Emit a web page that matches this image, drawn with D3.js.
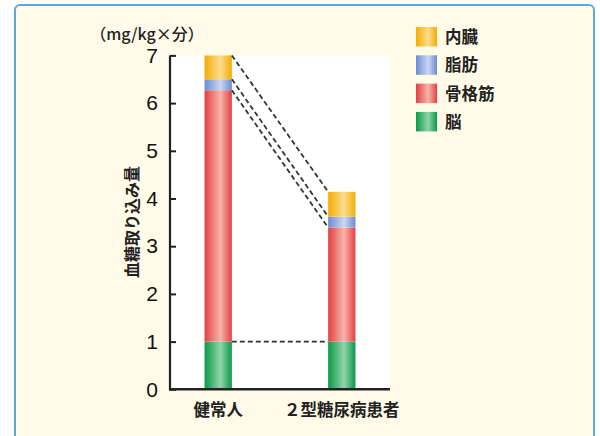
<!DOCTYPE html>
<html><head><meta charset="utf-8">
<script src="https://cdn.jsdelivr.net/npm/d3@7"></script>
<style>body{margin:0;background:#fff;}svg{display:block;}</style>
</head><body>
<script>
const categories = ["健常人", "２型糖尿病患者"];
const seriesNames = ["脳", "骨格筋", "脂肪", "内臓"];
const brain = [1.0, 1.0];
const muscle = [5.27, 2.39];
const fat = [0.23, 0.23];
const visceral = [0.5, 0.52];
const yTicks = [0, 1, 2, 3, 4, 5, 6, 7];
const legendOrder = ["内臓", "脂肪", "骨格筋", "脳"];

const colors = {
  "内臓": ["#f4ad00", "#fcdc90"],
  "脂肪": ["#6a8cd2", "#cbd7f0"],
  "骨格筋": ["#e43f42", "#f7b5ab"],
  "脳": ["#089949", "#93d3a9"]
};

const W = 600, H = 436;
const svg = d3.select("body").append("svg").attr("width", W).attr("height", H);
const defs = svg.append("defs");
Object.entries(colors).forEach(([k, c], i) => {
  const g = defs.append("linearGradient").attr("id", "g" + i).attr("x1", "0%").attr("x2", "100%").attr("y1", "0%").attr("y2", "0%");
  g.append("stop").attr("offset", "0%").attr("stop-color", c[0]);
  g.append("stop").attr("offset", "58%").attr("stop-color", c[1]);
  g.append("stop").attr("offset", "100%").attr("stop-color", c[0]);
});
const gradId = name => "url(#g" + Object.keys(colors).indexOf(name) + ")";

// outer frame
svg.append("rect").attr("x", 15).attr("y", 5).attr("width", 579).attr("height", 450).attr("rx", 5)
  .attr("fill", "#fffbe8").attr("stroke", "#5aa9dc").attr("stroke-width", 2);

const y = d3.scaleLinear().domain([0, 7]).range([389.3, 55.4]);
const x = d3.scaleBand().domain(categories).range([170, 390]).paddingInner(0.78).paddingOuter(0.28);

// plot area
svg.append("rect").attr("x", 171).attr("y", y(7)).attr("width", 219).attr("height", y(0) - y(7)).attr("fill", "#fff");

const data = categories.map((c, i) => ({cat: c, vals: {"脳": brain[i], "骨格筋": muscle[i], "脂肪": fat[i], "内臓": visceral[i]}}));
const stack = d3.stack().keys(seriesNames)(data.map(d => d.vals));

const bw = 27.3;
stack.forEach(layer => {
  svg.append("g").selectAll("rect").data(layer).enter().append("rect")
    .attr("x", (d, i) => x(categories[i]) + x.bandwidth() / 2 - bw / 2)
    .attr("width", bw)
    .attr("y", d => y(d[1]))
    .attr("height", d => y(d[0]) - y(d[1]))
    .attr("fill", gradId(layer.key));
});

// dashed connectors
const x1 = x(categories[0]) + x.bandwidth() / 2 + bw / 2;
const x2 = x(categories[1]) + x.bandwidth() / 2 - bw / 2;
const links = [0, 1, 2, 3].map(k => [stack[k][0][1], stack[k][1][1]]);
svg.append("g").selectAll("line").data(links).enter().append("line")
  .attr("x1", x1).attr("x2", x2).attr("y1", d => y(d[0])).attr("y2", d => y(d[1]))
  .attr("stroke", "#333").attr("stroke-width", 1.8).attr("stroke-dasharray", "5,3");

// axes
const yAxis = d3.axisLeft(y).tickValues(yTicks).tickSize(-6).tickPadding(12).tickFormat(d3.format("d"));
const ga = svg.append("g").attr("transform", "translate(170,0)").call(yAxis);
ga.select(".domain").remove();
ga.selectAll(".tick line").attr("stroke", "#222").attr("stroke-width", 2);
ga.selectAll(".tick text").attr("font-family", "Liberation Sans, Arial, sans-serif").attr("font-size", 21).attr("fill", "#111");
svg.append("line").attr("x1", 170).attr("x2", 170).attr("y1", y(7)).attr("y2", y(0) + 1).attr("stroke", "#222").attr("stroke-width", 2.2);
svg.append("line").attr("x1", 169).attr("x2", 390).attr("y1", y(0)).attr("y2", y(0)).attr("stroke", "#222").attr("stroke-width", 2.4);

const jp = "'Noto Sans CJK JP', sans-serif";
svg.append("g").selectAll("text").data(categories).enter().append("text")
  .attr("x", d => x(d) + x.bandwidth() / 2).attr("y", 416).attr("text-anchor", "middle")
  .attr("font-family", jp).attr("font-size", 16.5).attr("font-weight", 700).attr("fill", "#222").text(d => d);

svg.append("text").attr("x", 147).attr("y", 40).attr("text-anchor", "middle")
  .attr("font-family", jp).attr("font-size", 16).attr("font-weight", 500).attr("fill", "#222").text("（mg/kg×分）");

svg.append("text").attr("transform", "translate(138,222) rotate(-90)").attr("text-anchor", "middle")
  .attr("font-family", jp).attr("font-size", 16).attr("font-weight", 700).attr("fill", "#222").text("血糖取り込み量");

// legend
const lg = svg.append("g").selectAll("g").data(legendOrder).enter().append("g")
  .attr("transform", (d, i) => `translate(416,${27 + i * 28.3})`);
lg.append("rect").attr("width", 21).attr("height", 19.5).attr("fill", d => gradId(d));
lg.append("text").attr("x", 29).attr("y", 16).attr("font-family", jp).attr("font-size", 16.5).attr("font-weight", 700)
  .attr("fill", "#222").text(d => d);
</script>
</body></html>
